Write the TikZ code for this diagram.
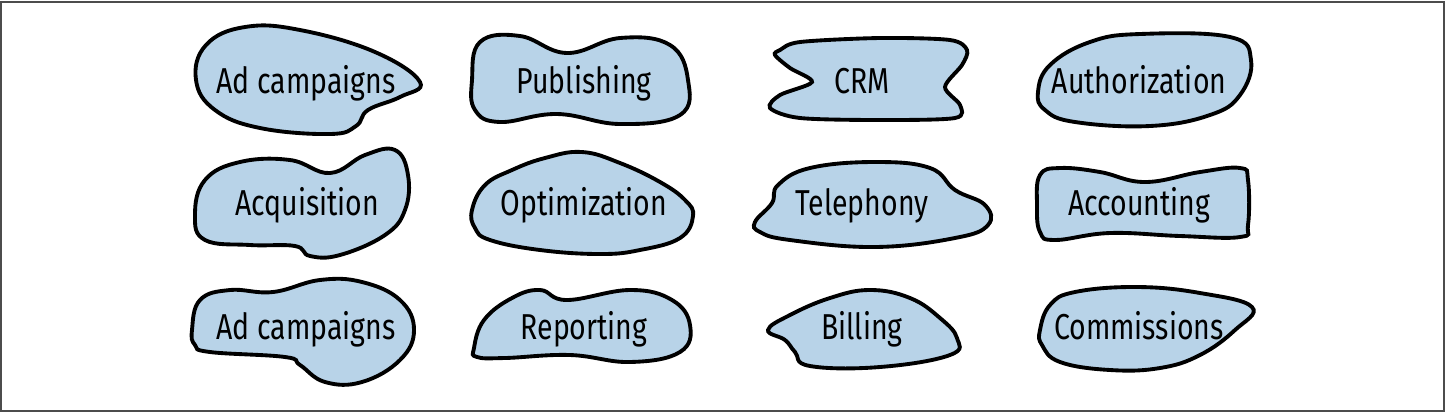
\documentclass[tikz,border=0pt]{standalone}
\usepackage{fontspec}
\setmainfont[FakeStretch=0.79]{Fira Sans}
\usepackage{tikz}
\definecolor{ctxblue}{RGB}{184,211,232}

\begin{document}
\begin{tikzpicture}[x=0.02cm, y=-0.02cm,
    ctx/.style ={draw, line width=2.2pt, fill=ctxblue, smooth cycle, tension=0.7},
    ctxname/.style ={font=\fontsize{20.5}{22}\selectfont, inner sep=0pt, anchor=base}]
   \useasboundingbox (0,0) rectangle (1446,414);
   \draw[black!70, line width=0.9pt] (1,2) rectangle (1444,411);

   \draw[ctx] plot coordinates {(196,80) (206,45) (245,27) (300,30) (375,52) (420,82) (400,97) (368,110) (356,126) (330,134) (260,128) (215,110)};
   \draw[ctx] plot coordinates {(472,80) (480,42) (520,36) (567,53) (620,38) (670,45) (688,80) (680,115) (620,124) (557,114) (500,122) (475,110)};
   \draw[ctx, tension=0.5] plot coordinates {(780,50) (800,42) (880,38) (950,40) (967,50) (962,65) (945,87) (960,105) (955,118) (880,120) (800,118) (770,108) (780,95) (812,82) (790,68) (775,55)};
   \draw[ctx] plot coordinates {(1038,92) (1050,65) (1090,42) (1140,34) (1230,37) (1251,60) (1240,95) (1210,115) (1150,126) (1075,122) (1045,110)};

   \draw[ctx] plot coordinates {(195,215) (205,180) (240,162) (290,160) (330,173) (365,155) (395,150) (408,175) (405,210) (385,235) (340,255) (310,256) (295,246) (250,245) (205,240)};
   \draw[ctx] plot coordinates {(472,210) (485,185) (512,170) (545,158) (582,152) (620,163) (660,182) (685,200) (693,216) (680,238) (640,250) (600,254) (540,250) (490,240) (475,228)};
   \draw[ctx] plot coordinates {(755,222) (772,203) (778,185) (810,168) (875,162) (930,168) (955,190) (985,205) (988,225) (955,238) (875,247) (790,240) (760,232)};
   \draw[ctx] plot coordinates {(1037,205) (1040,175) (1060,168) (1100,172) (1145,182) (1200,172) (1240,168) (1248,180) (1248,225) (1240,237) (1180,236) (1110,233) (1055,240) (1040,232)};

   \draw[ctx] plot coordinates {(192,330) (200,300) (230,290) (273,292) (320,280) (362,282) (400,300) (414,330) (400,360) (362,382) (325,382) (300,365) (285,357) (210,352) (195,345)};
   \draw[ctx] plot coordinates {(474,348) (484,320) (512,298) (540,290) (567,300) (630,290) (672,300) (690,325) (680,352) (630,362) (570,355) (505,358) (477,357)};
   \draw[ctx] plot coordinates {(768,330) (790,315) (830,298) (870,290) (910,298) (940,318) (957,338) (950,355) (880,367) (810,366) (795,352) (785,340)};
   \draw[ctx] plot coordinates {(1040,330) (1050,305) (1075,292) (1137,287) (1200,293) (1252,307) (1235,330) (1200,355) (1160,368) (1110,370) (1060,362) (1042,345)};

   \node[ctxname] (adcampaigns)   at (306,93)  {Ad campaigns};
   \node[ctxname] (publishing)    at (584,93)  {Publishing};
   \node[ctxname] (crm)           at (862,93)  {CRM};
   \node[ctxname] (authorization) at (1139,93) {Authorization};
   \node[ctxname] (acquisition)   at (307,215) {Acquisition};
   \node[ctxname] (optimization)  at (584,215) {Optimization};
   \node[ctxname] (telephony)     at (862,215) {Telephony};
   \node[ctxname] (accounting)    at (1139,215) {Accounting};
   \node[ctxname] (adcampaignsb)  at (306,339) {Ad campaigns};
   \node[ctxname] (reporting)     at (584,339) {Reporting};
   \node[ctxname] (billing)       at (862,339) {Billing};
   \node[ctxname] (commissions)   at (1139,339) {Commissions};
 \end{tikzpicture}
\end{document}
